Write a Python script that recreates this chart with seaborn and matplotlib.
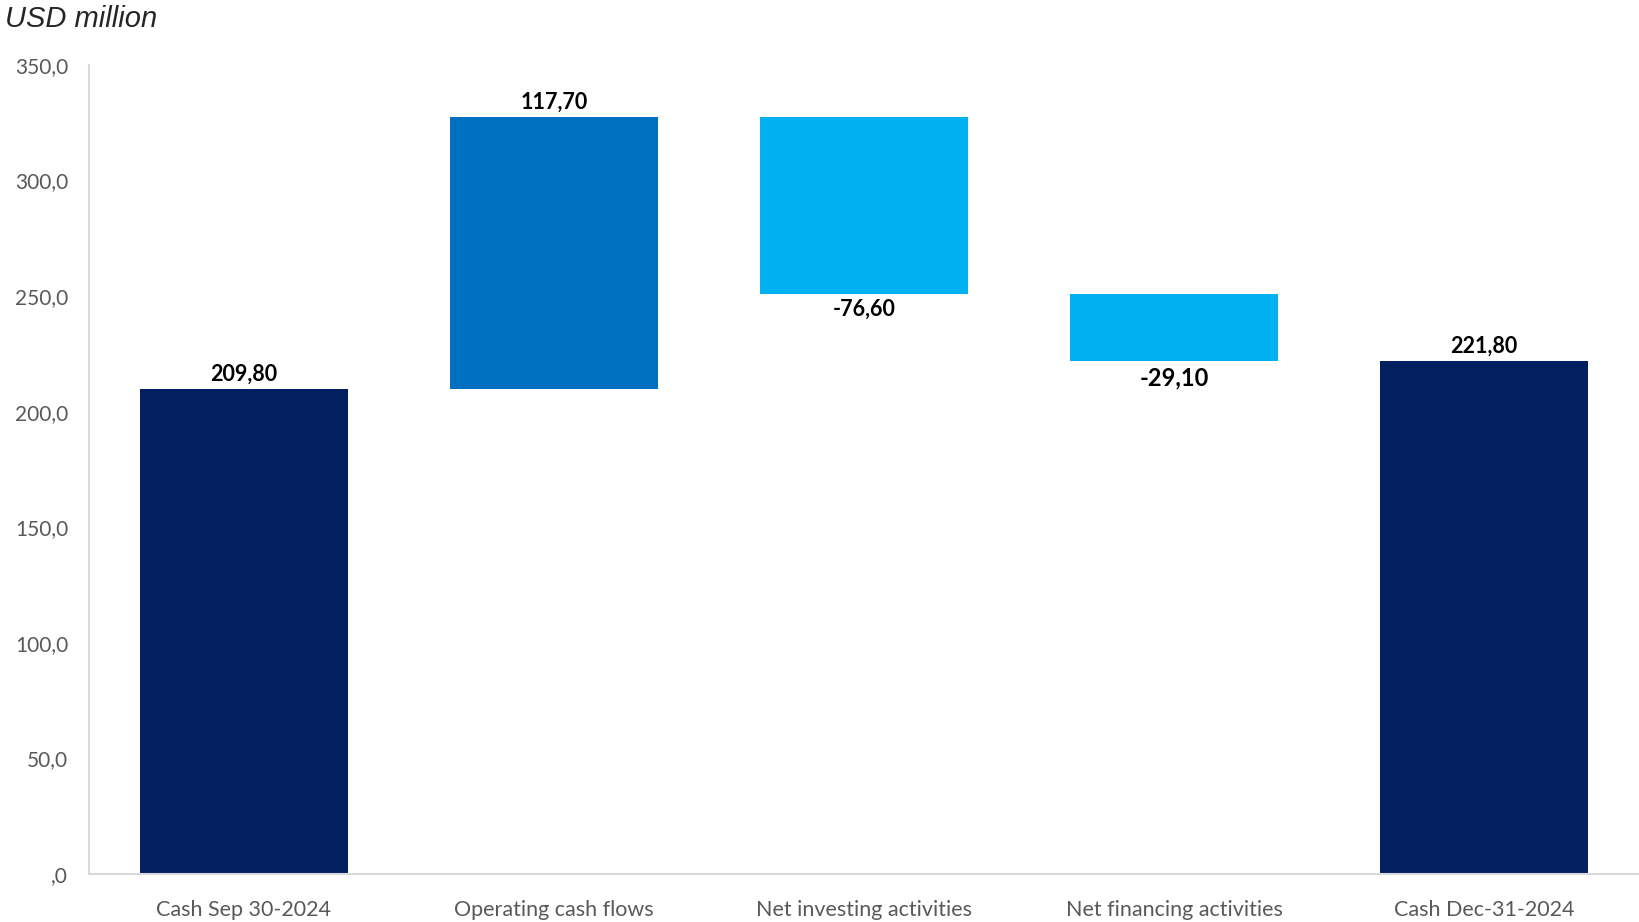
import matplotlib
matplotlib.use("Agg")
import matplotlib.pyplot as plt
import numpy as np
import pandas as pd
import seaborn as sns

# waterfall data (USD million)
categories = ["Cash Sep 30-2024", "Operating cash flows", "Net investing activities",
              "Net financing activities", "Cash Dec-31-2024"]
changes = [209.8, 117.7, -76.6, -29.1, 221.8]
kinds = ["total", "up", "down", "down", "total"]
value_labels = ["209,80", "117,70", "-76,60", "-29,10", "221,80"]
yticks = [0, 50, 100, 150, 200, 250, 300, 350]
ytick_labels = [",0", "50,0", "100,0", "150,0", "200,0", "250,0", "300,0", "350,0"]

palette = {"total": "#02205F", "up": "#0070C0", "down": "#00B0F0"}

# running bottoms for the floating bars
bottoms, heights = [], []
level = 0.0
for c, k in zip(changes, kinds):
    if k == "total":
        bottoms.append(0.0)
        heights.append(c)
        level = c
    elif c >= 0:
        bottoms.append(level)
        heights.append(c)
        level += c
    else:
        level += c
        bottoms.append(level)
        heights.append(-c)

df = pd.DataFrame({"category": categories, "height": heights, "bottom": bottoms, "kind": kinds})

sns.set_style("white")
plt.rcParams["font.family"] = ["Lato", "DejaVu Sans"]

fig = plt.figure(figsize=(16.39, 9.22), dpi=100)
ax = fig.add_axes([0.0543, 0.052, 0.9457, 0.8775])

sns.barplot(data=df, x="category", y="height", bottom=df["bottom"].values,
            width=0.668, saturation=1, color="#02205F", ax=ax)
for patch, k in zip(ax.patches, kinds):
    patch.set_facecolor(palette[k])
    patch.set_edgecolor("none")

ax.set_ylim(0, 350)
ax.set_xlim(-0.5, 4.5)
ax.set_yticks(yticks)
ax.set_yticklabels(ytick_labels)
ax.set_xlabel("")
ax.set_ylabel("")
ax.tick_params(axis="both", length=0, colors="#595959")
ax.tick_params(axis="x", pad=19, labelsize=15.5)
ax.tick_params(axis="y", pad=15, labelsize=15)
for s in ["top", "right"]:
    ax.spines[s].set_visible(False)
for s in ["left", "bottom"]:
    ax.spines[s].set_color("#D9D9D9")
    ax.spines[s].set_linewidth(1.5)

for i, (c, b, h, lab) in enumerate(zip(changes, bottoms, heights, value_labels)):
    if c >= 0:
        ax.text(i, b + h + 2, lab, ha="center", va="bottom", fontsize=15.5,
                fontweight="bold", color="black")
    else:
        size = 17 if i == 3 else 15.5
        ax.text(i, b - 2, lab, ha="center", va="top", fontsize=size,
                fontweight="bold", color="black")

fig.text(0.003, 0.979, "USD million", ha="left", va="center", fontsize=21,
         style="italic", family=["Liberation Sans", "DejaVu Sans"])

fig.savefig("out.png", dpi=100)
